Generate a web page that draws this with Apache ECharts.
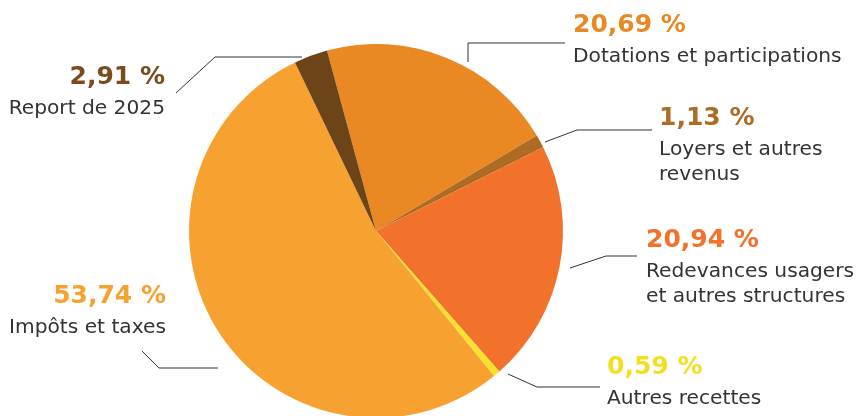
<!DOCTYPE html>
<html>
<head>
<meta charset="utf-8">
<script src="https://cdn.jsdelivr.net/npm/echarts@6/dist/echarts.min.js"></script>
<style>
html,body{margin:0;padding:0;background:#fff;}
#chart{width:858px;height:416px;}
</style>
</head>
<body>
<div id="chart"></div>
<script>
// Data
const categories = ["Dotations et participations", "Loyers et autres\nrevenus", "Redevances usagers\net autres structures", "Autres recettes", "Impôts et taxes", "Report de 2025"];
const values = [20.69, 1.13, 20.94, 0.59, 53.74, 2.91];
const valueLabels = ["20,69 %", "1,13 %", "20,94 %", "0,59 %", "53,74 %", "2,91 %"];
const sliceColors = ["#EA8924", "#AE6B24", "#F2712B", "#F6E22C", "#F7A130", "#6C4418"];
const labelColors = ["#EA8924", "#AE6B24", "#F2712B", "#F3DF22", "#F7A130", "#7A4C1C"];

// Label layout (annotation positions)
const labelPos = [
  {x: 573, y: 6, align: "left", line: [[468, 62], [468, 43], [565, 43]]},
  {x: 659, y: 99, align: "left", line: [[545, 142], [577, 130], [652, 130]]},
  {x: 646, y: 221, align: "left", line: [[570, 268], [606, 256], [637, 256]]},
  {x: 607, y: 348, align: "left", line: [[508, 374], [537, 387], [600, 387]]},
  {x: 166, y: 277, align: "right", line: [[142, 351], [159, 368], [218, 368]]},
  {x: 165, y: 58, align: "right", line: [[176, 93], [215, 57], [302, 57]]}
];

const font = "'DejaVu Sans', sans-serif";
const chart = echarts.init(document.getElementById('chart'), null, {renderer: 'canvas'});
chart.setOption({
  animation: false,
  backgroundColor: '#ffffff',
  series: [{
    type: 'pie',
    center: [376, 231],
    radius: [0, 187],
    startAngle: 105.2,
    clockwise: true,
    avoidLabelOverlap: false,
    itemStyle: {borderWidth: 0},
    emphasis: {disabled: true},
    data: categories.map((c, i) => ({
      name: c,
      value: values[i],
      itemStyle: {color: sliceColors[i]},
      label: {
        formatter: '{v|' + valueLabels[i] + '}\n{n|' + c.split('\n').join('}\n{n|') + '}',
        align: labelPos[i].align,
        rich: {
          v: {fontFamily: font, fontSize: 25, fontWeight: 'bold', color: labelColors[i], lineHeight: 38, align: labelPos[i].align},
          n: {fontFamily: font, fontSize: 20.2, color: '#333333', lineHeight: 25, align: labelPos[i].align}
        }
      }
    })),
    label: {show: true, position: 'outside'},
    labelLine: {show: true, lineStyle: {color: '#333333', width: 1}},
    labelLayout: function (params) {
      const p = labelPos[params.dataIndex];
      return {
        x: p.x,
        y: p.y,
        align: p.align,
        verticalAlign: 'top',
        labelLinePoints: p.line
      };
    }
  }]
});
</script>
</body>
</html>
